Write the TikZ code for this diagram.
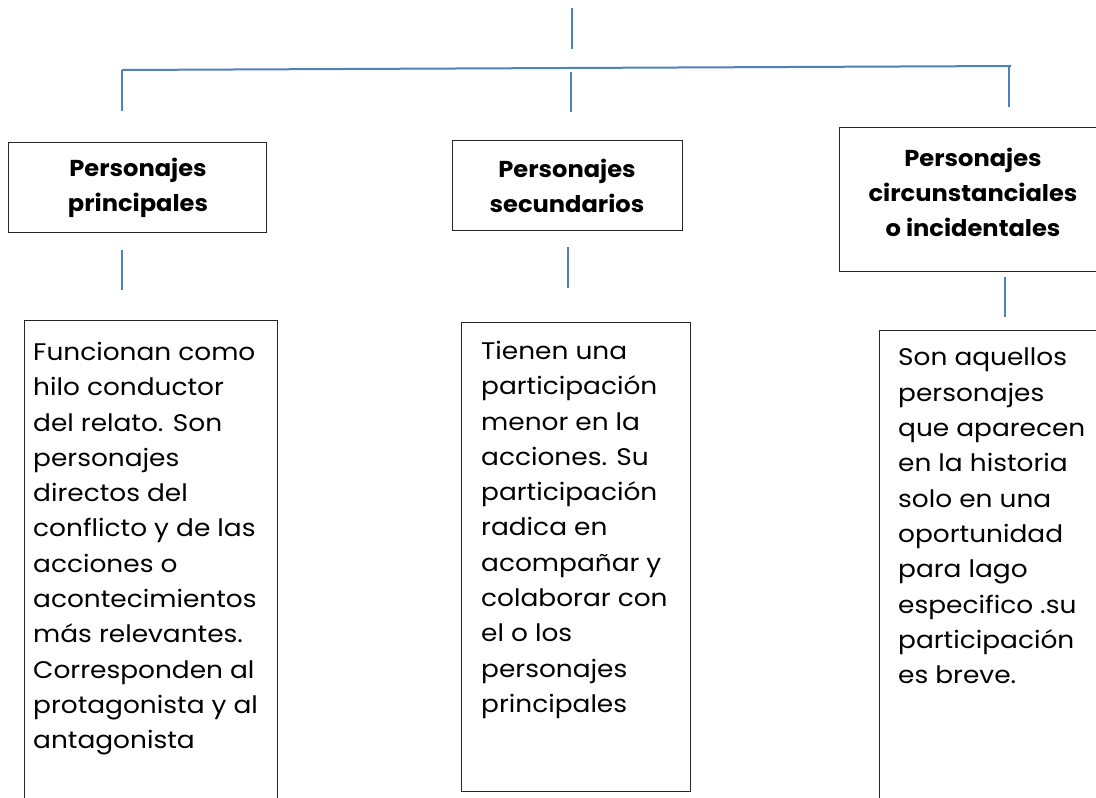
\documentclass[tikz,border=0pt]{standalone}
\usepackage{fontspec}
\setmainfont{Poppins}
\newfontfamily\descfont{Poppins}[FakeStretch=1.1]
\newfontfamily\titlefont{Poppins}[FakeStretch=1.05]
\definecolor{linkblue}{HTML}{4F81BD}
\tikzset{
  conn/.style={draw=linkblue, line width=2pt},
  boxframe/.style={draw=black!85, line width=1.3pt, rectangle, inner sep=0pt, anchor=north west},
  titletext/.style={font=\titlefont\bfseries\fontsize{23}{35}\selectfont, align=center, inner sep=0pt},
  desctext/.style={anchor=north west, align=left, font=\descfont\fontsize{24}{35.3}\selectfont, inner sep=0pt}
}
\begin{document}
\begin{tikzpicture}[x=1pt,y=-1pt]
\clip (0,0) rectangle (1096,798);
\fill[white] (0,0) rectangle (1096,798);
% top connectors
\coordinate (top1) at (572,8);
\coordinate (top2) at (572,49);
\draw[conn] (top1) -- (top2);
\coordinate (hl) at (122,70);
\coordinate (hr) at (1011,66);
\draw[conn] (hl) -- (hr);
\coordinate (d1a) at (122,70);  \coordinate (d1b) at (122,111);
\coordinate (d2a) at (571,72);  \coordinate (d2b) at (571,112);
\coordinate (d3a) at (1009,66); \coordinate (d3b) at (1009,107);
\draw[conn] (d1a) -- (d1b);
\draw[conn] (d2a) -- (d2b);
\draw[conn] (d3a) -- (d3b);
% title boxes
\node[boxframe, minimum width=258pt, minimum height=90pt] (b1) at (8,142) {};
\node[boxframe, minimum width=230pt, minimum height=90pt] (b2) at (452,140) {};
\node[boxframe, minimum width=270pt, minimum height=144pt] (b3) at (839,127) {};
\node[titletext] (t1) at (138,188) {Personajes\\principales};
\node[titletext] (t2) at (567,186) {Personajes\\secundarios};
\node[titletext] (t3) at (973,192) {Personajes\\circunstanciales\\o incidentales};
% lower connectors
\coordinate (l1a) at (122,250); \coordinate (l1b) at (122,290);
\coordinate (l2a) at (568,247); \coordinate (l2b) at (568,288);
\coordinate (l3a) at (1005,277); \coordinate (l3b) at (1005,317);
\draw[conn] (l1a) -- (l1b);
\draw[conn] (l2a) -- (l2b);
\draw[conn] (l3a) -- (l3b);
% description boxes
\node[boxframe, minimum width=253pt, minimum height=500pt] (b4) at (24,320) {};
\node[boxframe, minimum width=229pt, minimum height=469pt] (b5) at (461,322) {};
\node[boxframe, minimum width=230pt, minimum height=500pt] (b6) at (879,330) {};
\node[desctext] (x4) at (33,342) {Funcionan como\\hilo conductor\\del relato. Son\\personajes\\directos del\\conflicto y de las\\acciones o\\acontecimientos\\más relevantes.\\Corresponden al\\protagonista y al\\antagonista};
\node[desctext] (x5) at (481,341) {Tienen una\\participación\\menor en la\\acciones. Su\\participación\\radica en\\acompañar y\\colaborar con\\el o los\\personajes\\principales};
\node[desctext] (x6) at (898,348) {Son aquellos\\personajes\\que aparecen\\en la historia\\solo en una\\oportunidad\\para lago\\especifico .su\\participación\\es breve.};
\end{tikzpicture}
\end{document}
